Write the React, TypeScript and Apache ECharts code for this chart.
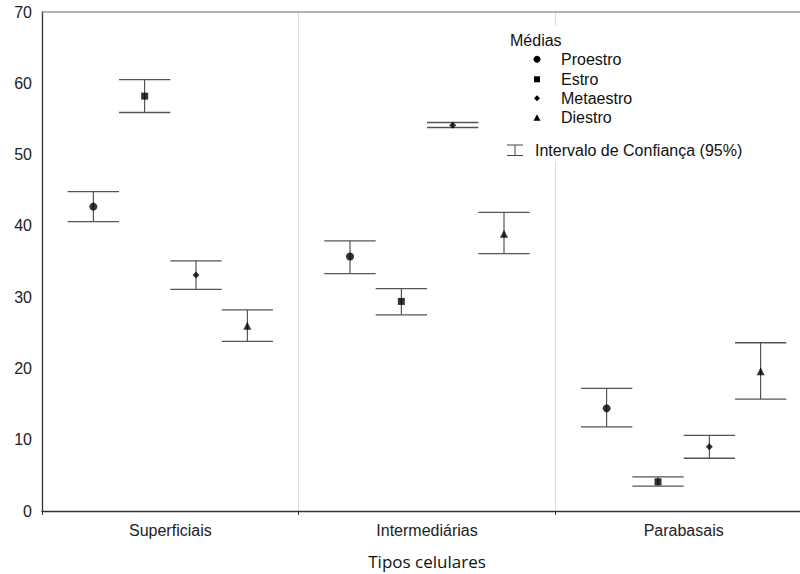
import React, { useEffect, useRef } from "react";
import * as echarts from "echarts";

const categories = ["Superficiais", "Intermediárias", "Parabasais"];
const phases = ["Proestro", "Estro", "Metaestro", "Diestro"];
const phaseSymbols = ["circle", "rect", "diamond", "triangle"];
const phaseSymbolSizes = [8, 7, 7, 8];

// means and 95% CI bounds per phase, in category order
const proestroMean = [42.7, 35.7, 14.4];
const proestroLow = [40.6, 33.3, 11.8];
const proestroHigh = [44.8, 37.9, 17.2];

const estroMean = [58.2, 29.4, 4.1];
const estroLow = [55.9, 27.5, 3.5];
const estroHigh = [60.5, 31.2, 4.8];

const metaestroMean = [33.1, 54.1, 9.0];
const metaestroLow = [31.1, 53.8, 7.4];
const metaestroHigh = [35.1, 54.5, 10.6];

const diestroMean = [26.0, 38.9, 19.6];
const diestroLow = [23.8, 36.1, 15.7];
const diestroHigh = [28.2, 41.9, 23.6];

const yTicks = [0, 10, 20, 30, 40, 50, 60, 70];

const meansByPhase = [proestroMean, estroMean, metaestroMean, diestroMean];
const lowsByPhase = [proestroLow, estroLow, metaestroLow, diestroLow];
const highsByPhase = [proestroHigh, estroHigh, metaestroHigh, diestroHigh];

const SLOTS = 5; // slots per category on the hidden value axis
const FONT = "'Liberation Sans', Arial, sans-serif";

export default function App() {
  const ref = useRef<HTMLDivElement>(null);

  useEffect(() => {
    if (!ref.current) return;
    const chart = echarts.init(ref.current, null, { renderer: "svg" });

    const xPos = (ci: number, pi: number) => ci * SLOTS + pi + 1;

    const errorData: any[] = [];
    phases.forEach((_, pi) => {
      categories.forEach((_c, ci) => {
        errorData.push([xPos(ci, pi), lowsByPhase[pi][ci], highsByPhase[pi][ci]]);
      });
    });

    const scatterSeries = phases.map((name, pi) => ({
      name,
      type: "scatter",
      xAxisIndex: 1,
      yAxisIndex: 0,
      symbol: phaseSymbols[pi],
      symbolSize: phaseSymbolSizes[pi],
      itemStyle: { color: "#000" },
      z: 5,
      data: categories.map((_c, ci) => [xPos(ci, pi), meansByPhase[pi][ci]]),
    }));

    const lx = 537;
    const rowYs = [59.3, 79.3, 98.3, 117.7];
    const legendMarkers: any[] = [
      { type: "circle", shape: { cx: lx, cy: rowYs[0], r: 3.5 }, style: { fill: "#000" } },
      { type: "rect", shape: { x: lx - 3, y: rowYs[1] - 3, width: 6, height: 6 }, style: { fill: "#000" } },
      {
        type: "polygon",
        shape: { points: [[lx, rowYs[2] - 3], [lx + 3, rowYs[2]], [lx, rowYs[2] + 3], [lx - 3, rowYs[2]]] },
        style: { fill: "#000" },
      },
      {
        type: "polygon",
        shape: { points: [[lx, rowYs[3] - 3.5], [lx + 3.5, rowYs[3] + 3], [lx - 3.5, rowYs[3] + 3]] },
        style: { fill: "#000" },
      },
    ];
    const legendTexts = phases.map((name, i) => ({
      type: "text",
      x: 561,
      y: rowYs[i],
      style: { text: name, fontSize: 16, fontFamily: FONT, fill: "#111", verticalAlign: "middle" },
    }));

    chart.setOption({
      animation: false,
      backgroundColor: "#fff",
      grid: { left: 42, right: -12, top: 12, bottom: 63, containLabel: false, outerBoundsMode: "none" },
      xAxis: [
        {
          type: "category",
          data: categories,
          position: "bottom",
          boundaryGap: true,
          axisLine: { show: true, lineStyle: { color: "#333", width: 1.3 } },
          axisTick: { show: true, length: 4, lineStyle: { color: "#333" } },
          axisLabel: { fontSize: 16, fontFamily: FONT, color: "#222", margin: 11 },
          splitLine: { show: true, lineStyle: { color: "#dcdcdc", width: 1 } },
          name: "Tipos celulares",
          nameLocation: "middle",
          nameGap: 42,
          nameTextStyle: { fontSize: 17, fontFamily: "'Open Sans', 'Noto Sans', sans-serif", color: "#111" },
        },
        {
          type: "value",
          position: "top",
          min: 0,
          max: categories.length * SLOTS,
          axisLine: { show: true, onZero: false, lineStyle: { color: "#999", width: 1.5 } },
          axisTick: { show: false },
          axisLabel: { show: false },
          splitLine: { show: false },
        },
      ],
      yAxis: {
        type: "value",
        min: yTicks[0],
        max: yTicks[yTicks.length - 1],
        interval: 10,
        axisLine: { show: true, lineStyle: { color: "#333", width: 1.3 } },
        axisTick: { show: false },
        axisLabel: { fontSize: 16, fontFamily: FONT, color: "#222", margin: 10 },
        splitLine: { show: false },
      },
      series: [
        {
          type: "custom",
          name: "IC95",
          xAxisIndex: 1,
          yAxisIndex: 0,
          z: 3,
          data: errorData,
          renderItem: (_params: any, api: any) => {
            const x = api.value(0);
            const lo = api.coord([x, api.value(1)]);
            const hi = api.coord([x, api.value(2)]);
            const half = api.size([0.5, 0])[0];
            const capStyle = { stroke: "#555", lineWidth: 1.3 };
            return {
              type: "group",
              children: [
                { type: "line", shape: { x1: lo[0], y1: lo[1], x2: hi[0], y2: hi[1] }, style: { stroke: "#333", lineWidth: 1 } },
                { type: "line", shape: { x1: hi[0] - half, y1: hi[1], x2: hi[0] + half, y2: hi[1] }, style: capStyle },
                { type: "line", shape: { x1: lo[0] - half, y1: lo[1], x2: lo[0] + half, y2: lo[1] }, style: capStyle },
              ],
            };
          },
        },
        ...scatterSeries,
      ],
      graphic: [
        { type: "rect", z: 10, shape: { x: 500, y: 26, width: 280, height: 136 }, style: { fill: "#fff" } },
        {
          type: "text",
          z: 11,
          x: 510,
          y: 40.7,
          style: { text: "Médias", fontSize: 16, fontFamily: FONT, fill: "#111", verticalAlign: "middle" },
        },
        ...legendMarkers.map((m) => ({ ...m, z: 11 })),
        ...legendTexts.map((t) => ({ ...t, z: 11 })),
        { type: "line", z: 11, shape: { x1: 507, y1: 145, x2: 523, y2: 145 }, style: { stroke: "#444", lineWidth: 1 } },
        { type: "line", z: 11, shape: { x1: 507, y1: 155.5, x2: 523, y2: 155.5 }, style: { stroke: "#444", lineWidth: 1 } },
        { type: "line", z: 11, shape: { x1: 515, y1: 145, x2: 515, y2: 155.5 }, style: { stroke: "#444", lineWidth: 1 } },
        {
          type: "text",
          z: 11,
          x: 535,
          y: 150,
          style: { text: "Intervalo de Confiança (95%)", fontSize: 16, fontFamily: FONT, fill: "#111", verticalAlign: "middle" },
        },
      ],
    });

    return () => chart.dispose();
  }, []);

  return (
    <div
      ref={ref}
      style={{ position: "fixed", left: 0, top: 0, width: 800, height: 574, background: "#fff" }}
    />
  );
}
